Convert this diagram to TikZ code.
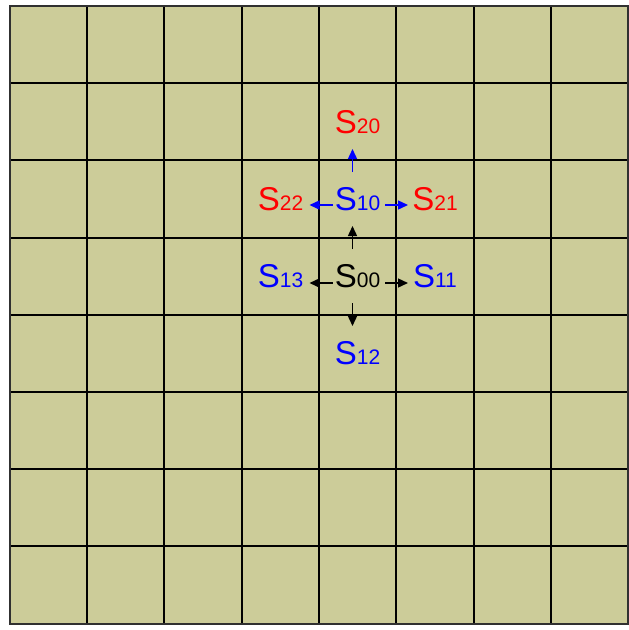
\documentclass[tikz,border=0pt]{standalone}
\usepackage{fontspec}
\setmainfont{Liberation Sans}
\usetikzlibrary{arrows.meta}
\definecolor{board}{HTML}{CCCC99}
\definecolor{edge}{HTML}{303030}
\tikzset{
  lbl/.style={anchor=base, inner sep=0pt},
  gridline/.style={line width=1.8pt, black},
  arr/.style={line width=1.4pt, -{Triangle[length=10pt,width=9pt]}},
}
\newcommand{\St}[1]{{\fontsize{33}{33}\selectfont S}{\fontsize{21}{21}\selectfont #1}}
\begin{document}
\begin{tikzpicture}[x=1pt,y=-1pt]
\useasboundingbox (0,0) rectangle (629,630);
\fill[board] (10,6) rectangle (628,624);
\foreach \x in {87,164,242,319,396,474,551} {
  \draw[gridline] (\x,6) -- (\x,624);
}
\foreach \y in {83,160,238,315,392,469,546} {
  \draw[gridline] (10,\y) -- (628,\y);
}
\draw[edge, line width=1.8pt] (10,6) rectangle (628,624);
% labels (cell centre x, baseline = cell centre y + 11)
\node[lbl] (s20) at (357.5,133) {\color{red}\St{20}};
\node[lbl] (s22) at (280.5,210) {\color{red}\St{22}};
\node[lbl] (s10) at (357.5,210) {\color{blue}\St{10}};
\node[lbl] (s21) at (435,210) {\color{red}\St{21}};
\node[lbl] (s13) at (280.5,287) {\color{blue}\St{13}};
\node[lbl] (s00) at (357.5,287) {\St{00}};
\node[lbl] (s11) at (435,287) {\color{blue}\St{11}};
\node[lbl] (s12) at (357.5,364) {\color{blue}\St{12}};
% black arrows from s00
\draw[arr] ([shift={(-5,-38)}]s00.base) -- ([shift={(-5,-61)}]s00.base);
\draw[arr] ([shift={(-5,16)}]s00.base) -- ([shift={(-5,39)}]s00.base);
\draw[arr] ([shift={(-25,-4)}]s00.base) -- ([shift={(-48,-4)}]s00.base);
\draw[arr] ([shift={(27.5,-4)}]s00.base) -- ([shift={(50.5,-4)}]s00.base);
% blue arrows from s10
\draw[arr, blue] ([shift={(-5,-38)}]s10.base) -- ([shift={(-5,-61)}]s10.base);
\draw[arr, blue] ([shift={(-25,-5)}]s10.base) -- ([shift={(-48,-5)}]s10.base);
\draw[arr, blue] ([shift={(27.5,-5)}]s10.base) -- ([shift={(50.5,-5)}]s10.base);
\end{tikzpicture}
\end{document}
